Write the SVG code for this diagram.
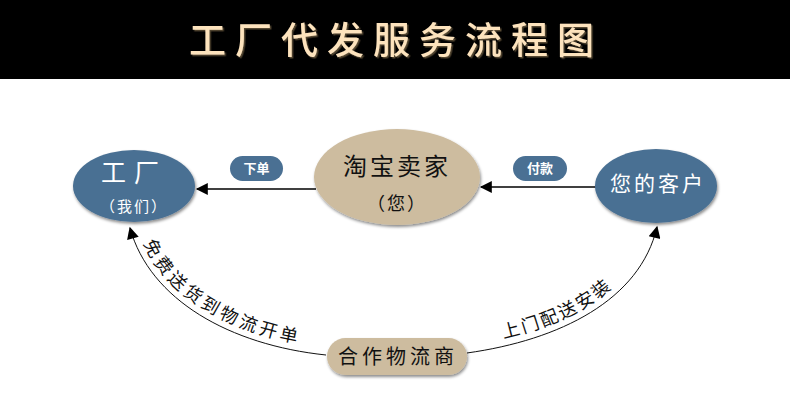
<svg xmlns="http://www.w3.org/2000/svg" width="790" height="417" viewBox="0 0 790 417">
<defs>
<style>
.cjk{font-family:"Noto Sans CJK SC","Noto Sans",sans-serif}
.blue{fill:#4a7093}
.tan{fill:#cdbc9f}
.wt{fill:#ffffff}
.bk{fill:#111111}
.edge{fill:none;stroke:#111111}
</style>
<filter id="sh" x="-20%" y="-20%" width="140%" height="150%">
<feDropShadow dx="1" dy="2" stdDeviation="1.5" flood-color="#000" flood-opacity="0.45"/>
</filter>
<filter id="tsh" x="-5%" y="-10%" width="110%" height="130%">
<feDropShadow dx="1.5" dy="1.5" stdDeviation="0.5" flood-color="#6b5a40" flood-opacity="0.8"/>
</filter>
<marker id="ah" viewBox="0 0 10 10" refX="9" refY="5" markerWidth="18" markerHeight="12" markerUnits="userSpaceOnUse" orient="auto">
<path d="M0,0 L10,5 L0,10 Z" fill="#000"/>
</marker>
<path id="pl" d="M138,226 C154,294 234,339 327,347"/>
<path id="pr" d="M466,345 C556,333 633,297 649,225"/>
</defs>
<rect width="790" height="417" fill="#ffffff"/>
<g id="title">
<rect x="0" y="0" width="790" height="79" fill="#000"/>
<text x="396" y="54" text-anchor="middle" class="cjk" font-size="37" font-weight="500" letter-spacing="9" fill="#fde3bd" filter="url(#tsh)">工厂代发服务流程图</text>
</g>
<g id="connectors">
<line x1="316" y1="189" x2="197" y2="189" stroke="#000" stroke-width="1.3" marker-end="url(#ah)"/>
<line x1="597" y1="187" x2="481" y2="187" stroke="#000" stroke-width="1.3" marker-end="url(#ah)"/>
<path d="M326,355 C230,345 150,300 130,228" class="edge" stroke-width="1" marker-end="url(#ah)"/>
<path d="M467,353 C560,340 640,300 657,227" class="edge" stroke-width="1" marker-end="url(#ah)"/>
<text class="cjk bk" font-size="18" letter-spacing="3.5"><textPath href="#pl" startOffset="18">免费送货到物流开单</textPath></text>
<text class="cjk bk" font-size="18" letter-spacing="2.5"><textPath href="#pr" startOffset="38">上门配送安装</textPath></text>
<g id="label-xiadan">
<rect x="230" y="156" width="53" height="25" rx="12.5" class="blue"/>
<text x="256.5" y="173" text-anchor="middle" class="cjk wt" font-size="13" font-weight="bold">下单</text>
</g>
<g id="label-fukuan">
<rect x="513" y="156" width="54" height="25" rx="12.5" class="blue"/>
<text x="540" y="173" text-anchor="middle" class="cjk wt" font-size="13" font-weight="bold">付款</text>
</g>
</g>
<g id="factory">
<ellipse cx="134" cy="186" rx="61" ry="36" class="blue" filter="url(#sh)"/>
<text x="134" y="182" text-anchor="middle" class="cjk wt" font-size="25" letter-spacing="8">工厂</text>
<text x="134" y="212" text-anchor="middle" class="cjk wt" font-size="15" letter-spacing="2">（我们）</text>
</g>
<g id="seller">
<ellipse cx="397" cy="177" rx="83" ry="48" class="tan" filter="url(#sh)"/>
<text x="397" y="175" text-anchor="middle" class="cjk bk" font-size="24" letter-spacing="3">淘宝卖家</text>
<text x="397" y="210" text-anchor="middle" class="cjk bk" font-size="18" letter-spacing="2">（您）</text>
</g>
<g id="customer">
<ellipse cx="656" cy="186" rx="61" ry="37" class="blue" filter="url(#sh)"/>
<text x="658" y="191" text-anchor="middle" class="cjk wt" font-size="21" letter-spacing="3">您的客户</text>
</g>
<g id="logistics">
<rect x="327" y="338" width="140" height="37" rx="18.5" class="tan" filter="url(#sh)"/>
<text x="398" y="364" text-anchor="middle" class="cjk bk" font-size="20" letter-spacing="4">合作物流商</text>
</g>
</svg>
